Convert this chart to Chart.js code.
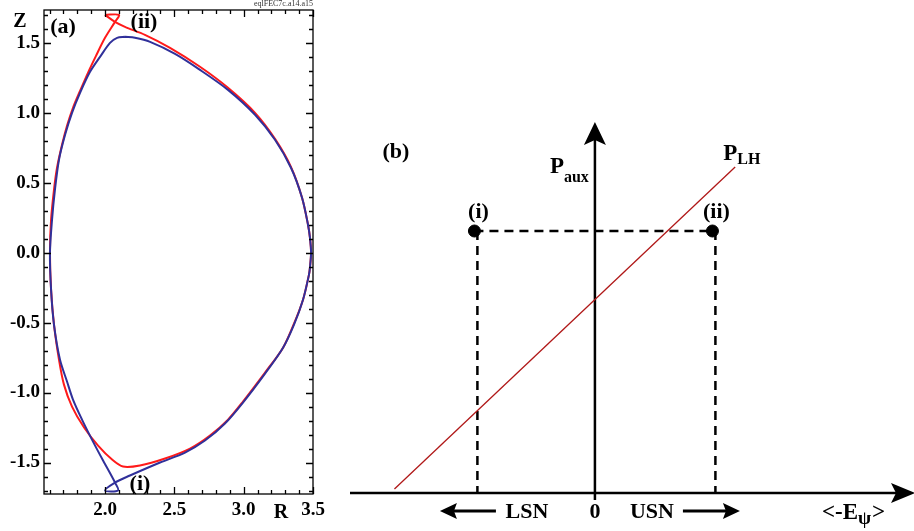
<!DOCTYPE html>
<html><head><meta charset="utf-8">
<script src="https://cdn.jsdelivr.net/npm/chart.js@4/dist/chart.umd.min.js"></script>
<style>
html,body{margin:0;padding:0;background:#fff;width:914px;height:531px;overflow:hidden}
#wa{position:absolute;left:0;top:0;width:330px;height:531px}
#wb{position:absolute;left:330px;top:0;width:584px;height:531px}
</style></head><body>
<div id="wa"><canvas id="ca"></canvas></div>
<div id="wb"><canvas id="cb"></canvas></div>
<script>
// ---------- Panel (a): separatrix shapes ----------
const lsnR = [2.144,2.087,2.036,1.964,1.892,1.820,1.762,1.712,1.668,1.639,1.618,1.603,1.611,1.632,1.675,1.726,1.769,1.834,1.906,1.986,2.072,2.094,2.000,2.072,2.180,2.397,2.577,2.721,2.865,2.995,3.154,3.284,3.363,3.428,3.471,3.478,3.486,3.478,3.464,3.421,3.341,3.226,3.082,2.887,2.685,2.505,2.325,2.216,2.144];
const lsnZ = [1.543,1.536,1.500,1.400,1.293,1.143,1.000,0.843,0.664,0.450,0.236,0.000,-0.264,-0.514,-0.764,-0.921,-1.050,-1.193,-1.336,-1.486,-1.643,-1.700,-1.700,-1.643,-1.593,-1.500,-1.429,-1.343,-1.221,-1.071,-0.864,-0.679,-0.514,-0.336,-0.157,-0.107,0.000,0.107,0.200,0.393,0.607,0.807,0.986,1.164,1.307,1.421,1.507,1.536,1.543];
const usnR = [2.000,2.101,2.072,2.000,1.935,1.877,1.820,1.769,1.726,1.690,1.654,1.632,1.611,1.603,1.611,1.632,1.668,1.704,1.762,1.849,1.950,2.051,2.130,2.252,2.433,2.613,2.757,2.887,2.995,3.154,3.284,3.363,3.428,3.471,3.478,3.486,3.478,3.464,3.421,3.341,3.226,3.082,2.887,2.685,2.469,2.288,2.144,2.072,2.000];
const usnZ = [1.700,1.700,1.650,1.536,1.407,1.286,1.157,1.036,0.907,0.771,0.607,0.450,0.236,0.000,-0.264,-0.514,-0.764,-0.943,-1.100,-1.250,-1.379,-1.479,-1.529,-1.521,-1.471,-1.400,-1.307,-1.193,-1.064,-0.857,-0.679,-0.507,-0.336,-0.157,-0.107,0.000,0.107,0.200,0.393,0.614,0.814,1.000,1.179,1.329,1.464,1.557,1.614,1.650,1.700];
const rTicks = [1.6,1.7,1.8,1.9,2.0,2.1,2.2,2.3,2.4,2.5,2.6,2.7,2.8,2.9,3.0,3.1,3.2,3.3,3.4,3.5];
const rMajor = [2.0,2.5,3.0,3.5];
const zTicks = [-1.7,-1.6,-1.5,-1.4,-1.3,-1.2,-1.1,-1.0,-0.9,-0.8,-0.7,-0.6,-0.5,-0.4,-0.3,-0.2,-0.1,0.0,0.1,0.2,0.3,0.4,0.5,0.6,0.7,0.8,0.9,1.0,1.1,1.2,1.3,1.4,1.5,1.6,1.7];
const zMajor = [-1.5,-1.0,-0.5,0.0,0.5,1.0,1.5];

// ---------- Panel (b): schematic ----------
const pLHx = [-2.03, 1.42];
const pLHy = [0.04, 3.26];
const caseNames = ['(i)', '(ii)'];
const casePsi = [-1.22, 1.19];
const caseP = [2.62, 2.62];
const dropPsi = [-1.19, 1.22];

const SERIF = "'Liberation Serif', 'DejaVu Serif', serif";
const toPts = (xs, ys) => xs.map((x, i) => ({x: x, y: ys[i]}));
const isIn = (arr, v) => arr.some(m => Math.abs(m - v) < 1e-6);

function txt(ctx, s, x, y, size, align, weight) {
  ctx.font = (weight || 'bold') + ' ' + size + 'px ' + SERIF;
  ctx.textAlign = align || 'center';
  ctx.textBaseline = 'middle';
  ctx.fillText(s, x, y);
  return ctx.measureText(s).width;
}

const frameA = {
  id: 'frameA',
  afterDatasetsDraw(chart) {
    const {ctx, chartArea: a, scales: {x, y}} = chart;
    ctx.save();
    ctx.strokeStyle = '#000';
    ctx.lineWidth = 1.3;
    ctx.strokeRect(a.left, a.top, a.right - a.left, a.bottom - a.top);
    ctx.beginPath();
    rTicks.forEach(v => {
      const p = Math.round(x.getPixelForValue(v)) + 0.5;
      const L = isIn(rMajor, v) ? 7 : 4;
      ctx.moveTo(p, a.bottom); ctx.lineTo(p, a.bottom - L);
      ctx.moveTo(p, a.top); ctx.lineTo(p, a.top + L);
    });
    zTicks.forEach(v => {
      const p = Math.round(y.getPixelForValue(v)) + 0.5;
      const L = isIn(zMajor, v) ? 7 : 4;
      ctx.moveTo(a.left, p); ctx.lineTo(a.left + L, p);
      ctx.moveTo(a.right, p); ctx.lineTo(a.right - L, p);
    });
    ctx.stroke();
    ctx.fillStyle = '#000';
    txt(ctx, 'Z', 20, 22, 20);
    txt(ctx, 'R', 281, 513, 20);
    txt(ctx, '(a)', 63, 27, 22);
    txt(ctx, '(ii)', 144, 22, 22);
    txt(ctx, '(i)', 140, 484, 22);
    ctx.fillStyle = '#333';
    txt(ctx, 'eqlFEC7c.a14.a15', a.right, 4, 8, 'right', 'normal');
    ctx.restore();
  }
};

const tickFont = {family: SERIF, weight: 'bold', size: 19};
new Chart(document.getElementById('ca'), {
  type: 'scatter',
  data: {datasets: [
    {label: 'LSN', data: toPts(lsnR, lsnZ), showLine: true, borderColor: '#30309a', borderWidth: 2, pointRadius: 0, tension: 0.3},
    {label: 'USN', data: toPts(usnR, usnZ), showLine: true, borderColor: '#ff1a1a', borderWidth: 2, pointRadius: 0, tension: 0.3}
  ]},
  options: {
    responsive: true, maintainAspectRatio: false, animation: false,
    layout: {padding: {left: 0, top: 10, right: 17, bottom: 0}},
    plugins: {legend: {display: false}, tooltip: {enabled: false}},
    scales: {
      x: {type: 'linear', min: 1.56, max: 3.5,
        afterBuildTicks: s => { s.ticks = rTicks.map(v => ({value: v})); },
        afterFit: s => { s.height = 37; s.paddingLeft = 0; s.paddingRight = 0; },
        grid: {display: false, drawTicks: false}, border: {display: false},
        ticks: {autoSkip: false, maxRotation: 0, padding: 5, color: '#000', font: tickFont,
          callback: v => isIn(rMajor, v) ? v.toFixed(1) : ''}},
      y: {type: 'linear', min: -1.725, max: 1.735,
        afterBuildTicks: s => { s.ticks = zTicks.map(v => ({value: v})); },
        afterFit: s => { s.width = 44; s.paddingTop = 0; s.paddingBottom = 0; },
        grid: {display: false, drawTicks: false}, border: {display: false},
        ticks: {autoSkip: false, padding: 4, color: '#000', font: tickFont,
          callback: v => isIn(zMajor, v) ? v.toFixed(1) : ''}}
    }
  },
  plugins: [frameA]
});

function arrowHead(ctx, tx, ty, dx, dy, len, half, notch) {
  const bx = tx - dx * len, by = ty - dy * len, nx = -dy, ny = dx;
  ctx.beginPath();
  ctx.moveTo(tx, ty);
  ctx.lineTo(bx + nx * half, by + ny * half);
  ctx.lineTo(tx - dx * (len - notch), ty - dy * (len - notch));
  ctx.lineTo(bx - nx * half, by - ny * half);
  ctx.closePath();
  ctx.fill();
}

const axesB = {
  id: 'axesB',
  beforeDatasetsDraw(chart) {
    const {ctx, chartArea: a, scales: {x, y}} = chart;
    const x0 = x.getPixelForValue(0), y0 = y.getPixelForValue(0);
    ctx.save();
    ctx.strokeStyle = '#000'; ctx.fillStyle = '#000'; ctx.lineWidth = 2.5;
    ctx.beginPath();
    ctx.moveTo(a.left, y0); ctx.lineTo(a.right, y0);
    ctx.moveTo(x0, y0 + 7); ctx.lineTo(x0, a.top + 10);
    ctx.stroke();
    arrowHead(ctx, x0, a.top, 0, -1, 23, 11, 5);
    arrowHead(ctx, a.right + 8, y0, 1, 0, 24, 10, 5);
    ctx.restore();
  },
  afterDraw(chart) {
    const {ctx, scales: {x, y}} = chart;
    const x0 = x.getPixelForValue(0), y0 = y.getPixelForValue(0);
    ctx.save();
    ctx.fillStyle = '#000'; ctx.strokeStyle = '#000';
    const yb = y0 + 18;
    ctx.lineWidth = 3;
    ctx.beginPath();
    ctx.moveTo(x0 - 99, yb); ctx.lineTo(x0 - 145, yb);
    ctx.moveTo(x0 + 88, yb); ctx.lineTo(x0 + 135, yb);
    ctx.stroke();
    arrowHead(ctx, x0 - 155, yb, -1, 0, 17, 8, 3);
    arrowHead(ctx, x0 + 145, yb, 1, 0, 17, 8, 3);
    txt(ctx, 'LSN', x0 - 68, yb + 1, 22);
    txt(ctx, '0', x0, yb + 1, 22);
    txt(ctx, 'USN', x0 + 57, yb + 1, 22);
    let ex = x0 + 227;
    ex += txt(ctx, '<-E', ex, yb + 2, 23, 'left');
    ex += txt(ctx, 'ψ', ex, yb + 8, 19, 'left');
    txt(ctx, '>', ex + 1, yb + 2, 23, 'left');
    txt(ctx, '(b)', x0 - 199, 152, 22);
    let px = x0 - 45;
    px += txt(ctx, 'P', px, 167, 23, 'left');
    txt(ctx, 'aux', px, 178, 16, 'left');
    let qx = x.getPixelForValue(pLHx[1]) - 12;
    qx += txt(ctx, 'P', qx, 154, 23, 'left');
    txt(ctx, 'LH', qx, 160, 16, 'left');
    caseNames.forEach((n, i) => {
      txt(ctx, n, x.getPixelForValue(casePsi[i]) + 4, y.getPixelForValue(caseP[i]) - 19, 22);
    });
    ctx.restore();
  }
};

const dashStyle = {showLine: true, borderColor: '#000', borderWidth: 2.5, borderDash: [9, 6], pointRadius: 0};
new Chart(document.getElementById('cb'), {
  type: 'scatter',
  data: {datasets: [
    {data: toPts(casePsi, caseP), pointRadius: 6, pointBackgroundColor: '#000', pointBorderColor: '#000', showLine: false},
    {data: toPts(pLHx, pLHy), showLine: true, borderColor: '#b01818', borderWidth: 1.3, pointRadius: 0},
    Object.assign({data: [{x: casePsi[0], y: caseP[0]}, {x: casePsi[1], y: caseP[1]}]}, dashStyle),
    Object.assign({data: [{x: dropPsi[0], y: caseP[0]}, {x: dropPsi[0], y: 0}]}, dashStyle),
    Object.assign({data: [{x: dropPsi[1], y: caseP[1]}, {x: dropPsi[1], y: 0}]}, dashStyle)
  ]},
  options: {
    responsive: true, maintainAspectRatio: false, animation: false,
    layout: {padding: {left: 20, top: 122, right: 0, bottom: 38}},
    plugins: {legend: {display: false}, tooltip: {enabled: false}},
    scales: {
      x: {type: 'linear', display: false, min: -2.48, max: 3.16},
      y: {type: 'linear', display: false, min: 0, max: 3.71}
    }
  },
  plugins: [axesB]
});
</script>
</body></html>
